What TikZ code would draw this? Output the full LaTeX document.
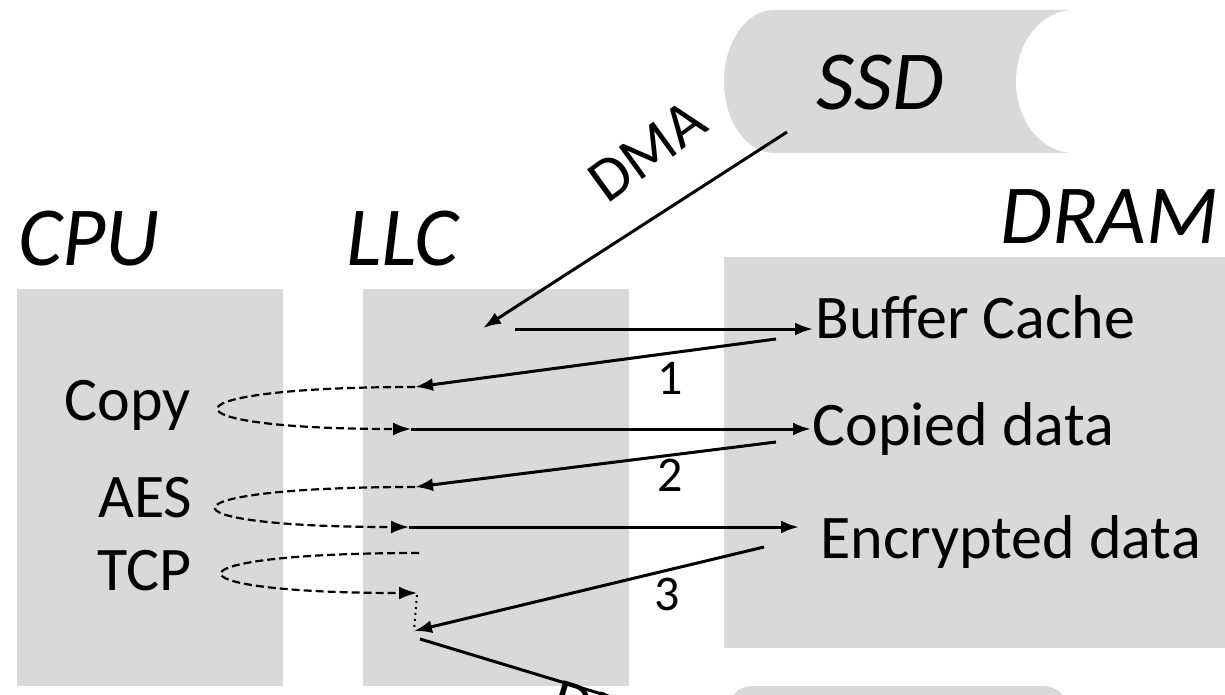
\documentclass[tikz,border=0pt]{standalone}
\usepackage{fontspec}
\setmainfont{Carlito}
\usetikzlibrary{arrows.meta}
\definecolor{boxgray}{RGB}{217,217,217}

\begin{document}
\begin{tikzpicture}[x=0.5pt,y=-0.5pt,
  every node/.style={inner sep=0pt},
  unitlbl/.style={font=\fontsize{42}{50}\selectfont\itshape},
  itemlbl/.style={font=\fontsize{31}{37}\selectfont},
  numlbl/.style={font=\fontsize{25}{30}\selectfont},
  flow/.style={line width=1.5pt,-{Latex[length=9pt,width=6.5pt]}},
  hop/.style={line width=1.1pt,dash pattern=on 4pt off 2pt,-{Latex[length=9pt,width=6.5pt]}}]
  \clip (0,0) rectangle (1225,695);
  % blocks
  \fill[boxgray] (17,289) rectangle (283,686);
  \fill[boxgray] (363,289) rectangle (629,686);
  \fill[boxgray] (724,257) rectangle (1260,648);
  \fill[boxgray,rounded corners=12pt] (728,686) rectangle (1068,780);
  % ssd can
  \fill[boxgray] (1074,10) -- (774,10) arc[start angle=270,end angle=90,x radius=50,y radius=71.5] -- (1074,153) -- cycle;
  \fill[white] (1074,81.5) ellipse[x radius=58,y radius=71.5];
  % titles
  \node[unitlbl,anchor=base west] (cpu)  at (18,265)   {CPU};
  \node[unitlbl,anchor=base west] (llc)  at (346,265)  {LLC};
  \node[unitlbl,anchor=base west] (dram) at (1000,243) {DRAM};
  \node[unitlbl,anchor=base west] (ssd)  at (816,110)  {SSD};
  % data in dram
  \node[itemlbl,anchor=base west] (buf) at (815,338) {Buffer Cache};
  \node[itemlbl,anchor=base west] (cpd) at (812,445) {Copied data};
  \node[itemlbl,anchor=base west] (enc) at (820,558) {Encrypted data};
  % work on the cpu
  \node[itemlbl,anchor=base west] (cpy) at (64,420) {Copy};
  \node[itemlbl,anchor=base west] (aes) at (98,517) {AES};
  \node[itemlbl,anchor=base west] (tcp) at (97,590) {TCP};
  % steps
  \node[numlbl] (s1) at (670,378) {1};
  \node[numlbl] (s2) at (670,475) {2};
  \node[numlbl] (s3) at (667,594) {3};
  \node[itemlbl,rotate=36] (dmaup) at (647,151) {DMA};
  \node[itemlbl,rotate=-17,anchor=base west] (dmadn) at (548,717) {DMA};
  % end points
  \coordinate (ssdout) at (787,132);
  \coordinate (llcin)  at (483,328);
  \coordinate (llcsrc) at (515,329);
  \coordinate (bufin)  at (813,329);
  \coordinate (bufout) at (776,339);
  \coordinate (cpyin)  at (415,387);
  \coordinate (cpyout) at (411,429);
  \coordinate (cpdin)  at (811,429);
  \coordinate (cpdout) at (776,442);
  \coordinate (aesin)  at (415,487);
  \coordinate (aesout) at (409,527);
  \coordinate (encin)  at (799,527);
  \coordinate (encout) at (764,547);
  \coordinate (tcpin)  at (419,553);
  \coordinate (tcpout) at (417,593);
  \coordinate (sendin) at (414,631);
  \coordinate (sendsrc) at (420,639);
  \coordinate (nicin)  at (770,745);
  % data movement
  \draw[flow] (ssdout) -- (llcin);
  \draw[flow] (llcsrc) -- (bufin);
  \draw[flow] (bufout) -- (cpyin);
  \draw[flow] (cpyout) -- (cpdin);
  \draw[flow] (cpdout) -- (aesin);
  \draw[flow] (aesout) -- (encin);
  \draw[flow] (encout) -- (sendin);
  \draw[line width=1.5pt] (sendsrc) -- (nicin);
  % cpu loops
  \draw[hop] (cpyin) .. controls +(-258,0) and +(-258,0) .. (cpyout);
  \draw[hop] (aesin) .. controls +(-260,0) and +(-260,0) .. (aesout);
  \draw[hop] (tcpin) .. controls +(-260,0) and +(-260,0) .. (tcpout);
  \draw[line width=1pt,dotted] ([yshift=-1pt]tcpout) -- (sendin);
\end{tikzpicture}
\end{document}
